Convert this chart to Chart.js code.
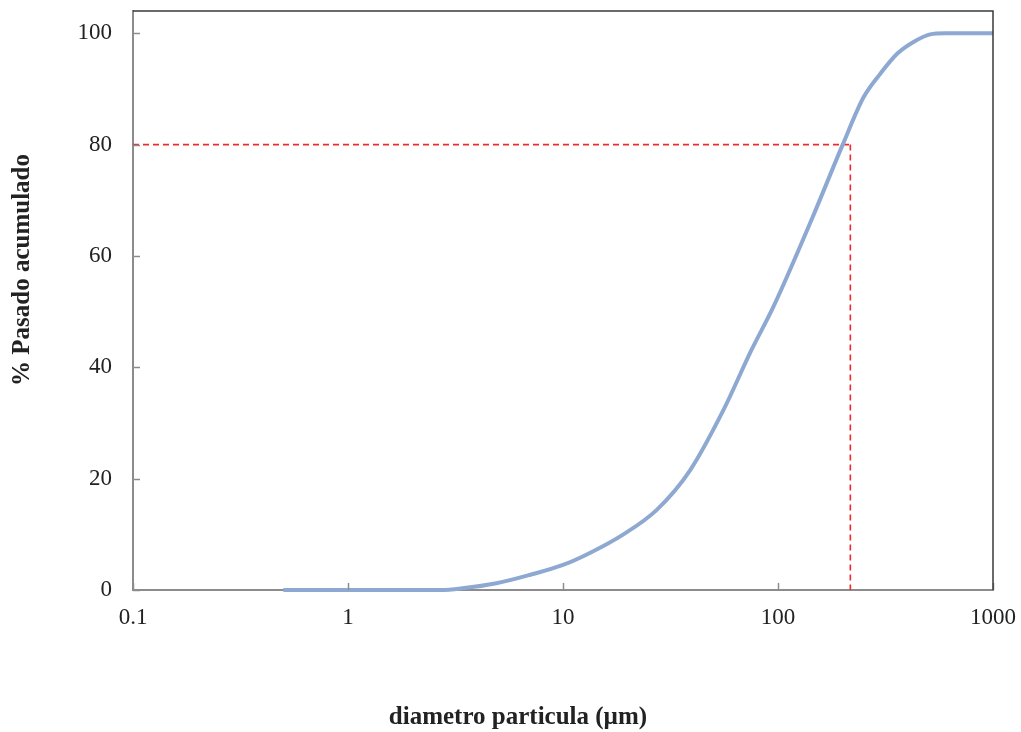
<!DOCTYPE html>
<html>
<head>
<meta charset="utf-8">
<script src="https://cdn.jsdelivr.net/npm/chart.js@4.4.1/dist/chart.umd.min.js"></script>
<style>
html,body{margin:0;padding:0;background:#fff;}
#wrap{width:1021px;height:732px;position:relative;}
</style>
</head>
<body>
<div id="wrap"><canvas id="c" width="1021" height="732"></canvas></div>
<script>
// Particle size (µm) and cumulative % passing
const sizes   = [0.5, 1, 2, 2.7, 3.4, 4.9, 7, 10, 13.4, 19.1, 27.3, 39, 55.7, 75, 95, 145, 200, 250, 300, 360, 425, 510, 600, 1000];
const passing = [0, 0, 0, 0, 0.3, 1.2, 2.7, 4.5, 6.7, 10.0, 14.4, 21.5, 32.3, 43, 50.8, 67, 80, 88.5, 92.8, 96.4, 98.4, 99.8, 100, 100];

// d80 guide lines
const d80X = [0.1, 222];
const d80Y = [80, 80];
const d80VX = [217, 217];
const d80VY = [80, 0];

// ticks
const xTicks = [0.1, 1, 10, 100, 1000];
const xTickLabels = ['0.1', '1', '10', '100', '1000'];
const yTicks = [0, 20, 40, 60, 80, 100];

const xTitle = 'diametro particula (µm)';
const yTitle = '% Pasado acumulado';

const axisGray = '#8c8c8c';
const serif = '"Liberation Serif", "DejaVu Serif", serif';

const extras = {
  id: 'extras',
  afterDraw(chart) {
    const ctx = chart.ctx;
    const a = chart.chartArea;
    const xs = chart.scales.x, ys = chart.scales.y;
    ctx.save();
    // inward tick marks
    ctx.strokeStyle = axisGray;
    ctx.lineWidth = 1.5;
    xs.ticks.forEach(t => {
      const px = Math.round(xs.getPixelForValue(t.value)) + 0.5;
      ctx.beginPath(); ctx.moveTo(px, a.bottom); ctx.lineTo(px, a.bottom - 7); ctx.stroke();
    });
    ys.ticks.forEach(t => {
      const py = Math.round(ys.getPixelForValue(t.value)) + 0.5;
      ctx.beginPath(); ctx.moveTo(a.left, py); ctx.lineTo(a.left + 7, py); ctx.stroke();
    });
    // top and right border
    ctx.strokeStyle = '#3a3a3a';
    ctx.lineWidth = 1.5;
    ctx.beginPath();
    ctx.moveTo(a.left, a.top); ctx.lineTo(a.right, a.top); ctx.lineTo(a.right, a.bottom);
    ctx.stroke();
    // axis titles
    ctx.fillStyle = '#222';
    ctx.font = 'bold 25px ' + serif;
    ctx.textAlign = 'center';
    ctx.textBaseline = 'middle';
    ctx.fillText(xTitle, 518, 718);
    ctx.translate(23, 270);
    ctx.rotate(-Math.PI / 2);
    ctx.fillText(yTitle, 0, 0);
    ctx.restore();
  }
};

function zeroPad(s) { s.paddingTop = 0; s.paddingBottom = 0; s.paddingLeft = 0; s.paddingRight = 0; }

new Chart(document.getElementById('c'), {
  type: 'line',
  data: {
    datasets: [
      {
        label: 'curva',
        data: sizes.map((s, i) => ({x: s, y: passing[i]})),
        borderColor: '#8DA9D2',
        borderWidth: 4,
        pointRadius: 0,
        fill: false,
        cubicInterpolationMode: 'monotone',
        clip: false,
        order: 1
      },
      {
        label: 'd80 h',
        data: d80X.map((v, i) => ({x: v, y: d80Y[i]})),
        borderColor: '#EE2A2F',
        borderWidth: 1.6,
        borderDash: [6, 4],
        pointRadius: 0,
        fill: false,
        clip: false,
        order: 2
      },
      {
        label: 'd80 v',
        data: d80VX.map((v, i) => ({x: v, y: d80VY[i]})),
        borderColor: '#EE2A2F',
        borderWidth: 1.6,
        borderDash: [6, 4],
        pointRadius: 0,
        fill: false,
        clip: false,
        order: 2
      }
    ]
  },
  options: {
    responsive: false,
    animation: false,
    layout: {padding: {top: 11, right: 28, left: 0, bottom: 0}},
    plugins: {legend: {display: false}, tooltip: {enabled: false}},
    scales: {
      x: {
        type: 'logarithmic',
        min: 0.1,
        max: 1000,
        afterBuildTicks: s => { s.ticks = xTicks.map(v => ({value: v})); },
        afterFit: s => { s.height = 142; zeroPad(s); },
        grid: {display: false, drawTicks: false},
        border: {display: true, color: axisGray, width: 2},
        ticks: {
          autoSkip: false,
          maxRotation: 0,
          padding: 14,
          color: '#222',
          font: {family: serif, size: 23},
          callback: (v) => { const i = xTicks.indexOf(v); return i >= 0 ? xTickLabels[i] : ''; }
        }
      },
      y: {
        type: 'linear',
        min: 0,
        max: 104,
        afterBuildTicks: s => { s.ticks = yTicks.map(v => ({value: v})); },
        afterFit: s => { s.width = 133; zeroPad(s); },
        grid: {display: false, drawTicks: false},
        border: {display: true, color: axisGray, width: 2},
        ticks: {
          padding: 21,
          color: '#222',
          font: {family: serif, size: 23}
        }
      }
    }
  },
  plugins: [extras]
});
</script>
</body>
</html>
